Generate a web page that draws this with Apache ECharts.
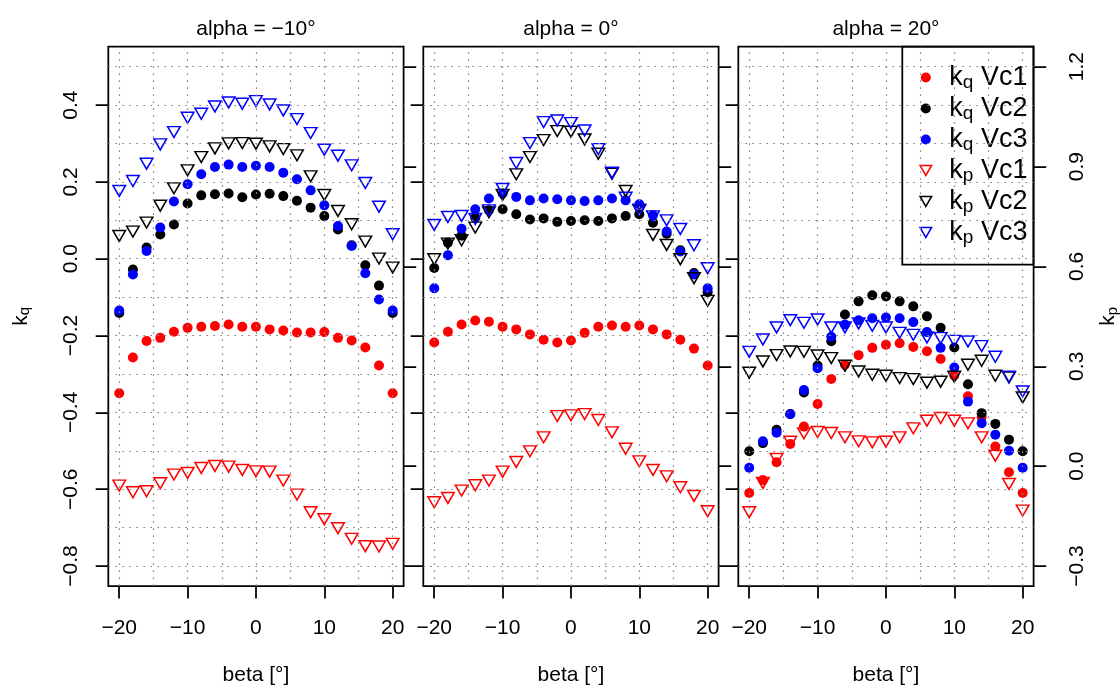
<!DOCTYPE html>
<html><head><meta charset="utf-8">
<script src="https://cdn.jsdelivr.net/npm/echarts@6/dist/echarts.min.js"></script>
<style>html,body{margin:0;padding:0;background:#fff}#c{width:1120px;height:692px}</style>
</head><body><div id="c"></div>
<script>
// ---------------- data ----------------
const beta = [-20,-18,-16,-14,-12,-10,-8,-6,-4,-2,0,2,4,6,8,10,12,14,16,18,20];

// alpha = -10
const kqVc1_m10 = [-0.350,-0.257,-0.214,-0.206,-0.190,-0.180,-0.177,-0.175,-0.171,-0.177,-0.177,-0.184,-0.187,-0.192,-0.192,-0.191,-0.206,-0.213,-0.231,-0.278,-0.350];
const kqVc2_m10 = [-0.141,-0.028,0.029,0.063,0.089,0.144,0.165,0.168,0.170,0.160,0.167,0.169,0.163,0.151,0.133,0.111,0.076,0.035,-0.017,-0.070,-0.141];
const kqVc3_m10 = [-0.135,-0.041,0.020,0.081,0.149,0.194,0.220,0.239,0.245,0.239,0.242,0.239,0.224,0.207,0.178,0.139,0.085,0.033,-0.038,-0.106,-0.135];
const kpVc1_m10 = [-0.053,-0.073,-0.070,-0.046,-0.020,-0.015,0.000,0.006,0.004,-0.006,-0.010,-0.011,-0.038,-0.080,-0.133,-0.154,-0.181,-0.213,-0.235,-0.236,-0.228];
const kpVc2_m10 = [0.697,0.710,0.737,0.788,0.840,0.894,0.934,0.960,0.975,0.976,0.974,0.966,0.958,0.939,0.876,0.820,0.772,0.732,0.680,0.629,0.602];
const kpVc3_m10 = [0.832,0.862,0.914,0.972,1.009,1.052,1.064,1.086,1.098,1.094,1.102,1.092,1.074,1.048,1.006,0.956,0.938,0.909,0.856,0.785,0.702];

// alpha = 0
const kqVc1_0 = [-0.218,-0.190,-0.171,-0.161,-0.164,-0.177,-0.184,-0.197,-0.211,-0.218,-0.213,-0.193,-0.177,-0.174,-0.177,-0.174,-0.184,-0.197,-0.211,-0.234,-0.278];
const kqVc2_0 = [-0.024,0.042,0.060,0.107,0.126,0.129,0.116,0.102,0.105,0.096,0.098,0.100,0.098,0.105,0.111,0.116,0.094,0.065,0.022,-0.037,-0.087];
const kqVc3_0 = [-0.077,0.009,0.078,0.129,0.157,0.170,0.161,0.152,0.157,0.155,0.152,0.150,0.152,0.157,0.152,0.142,0.113,0.071,0.019,-0.041,-0.077];
const kpVc1_0 = [-0.103,-0.090,-0.068,-0.052,-0.038,-0.011,0.018,0.050,0.092,0.156,0.158,0.162,0.144,0.107,0.058,0.020,-0.006,-0.025,-0.058,-0.084,-0.130];
const kpVc2_0 = [0.627,0.674,0.684,0.722,0.768,0.820,0.882,0.934,0.985,1.012,1.010,0.987,0.944,0.884,0.832,0.774,0.700,0.670,0.627,0.570,0.502];
const kpVc3_0 = [0.730,0.754,0.757,0.748,0.774,0.838,0.916,0.976,1.039,1.044,1.036,1.014,0.958,0.887,0.812,0.776,0.756,0.744,0.718,0.669,0.600];

// alpha = 20
const kqVc1_20 = [-0.610,-0.576,-0.530,-0.482,-0.437,-0.378,-0.313,-0.276,-0.251,-0.232,-0.224,-0.220,-0.230,-0.241,-0.261,-0.304,-0.358,-0.412,-0.489,-0.556,-0.610];
const kqVc2_20 = [-0.501,-0.480,-0.445,-0.404,-0.348,-0.278,-0.215,-0.145,-0.111,-0.095,-0.098,-0.111,-0.124,-0.150,-0.180,-0.231,-0.327,-0.402,-0.430,-0.471,-0.501];
const kqVc3_20 = [-0.544,-0.475,-0.453,-0.405,-0.342,-0.285,-0.203,-0.171,-0.160,-0.155,-0.153,-0.155,-0.165,-0.191,-0.232,-0.283,-0.372,-0.428,-0.458,-0.500,-0.544];
const kpVc1_20 = [-0.133,-0.045,0.027,0.079,0.104,0.108,0.105,0.092,0.080,0.077,0.079,0.092,0.119,0.142,0.150,0.142,0.134,0.092,0.037,-0.048,-0.128];
const kpVc2_20 = [0.286,0.320,0.339,0.350,0.349,0.338,0.330,0.307,0.290,0.280,0.277,0.270,0.267,0.256,0.259,0.274,0.310,0.322,0.277,0.272,0.212];
const kpVc3_20 = [0.349,0.386,0.422,0.444,0.436,0.446,0.422,0.422,0.434,0.427,0.422,0.406,0.400,0.392,0.390,0.382,0.380,0.366,0.334,0.274,0.230];

// ticks / grid lines
const xTicks = [-20,-10,0,10,20];
const xGridLines = [-20,-15,-10,-5,0,5,10,15,20];
const kqTicks = [-0.8,-0.6,-0.4,-0.2,0,0.2,0.4];
const kqGridLines = [-0.8,-0.7,-0.6,-0.5,-0.4,-0.3,-0.2,-0.1,0,0.1,0.2,0.3,0.4,0.5];
const kpTicks = [-0.3,0,0.3,0.6,0.9,1.2];
const panelTitles = ['alpha = \u221210\u00b0','alpha = 0\u00b0','alpha = 20\u00b0'];
const seriesNames = ['kq Vc1','kq Vc2','kq Vc3','kp Vc1','kp Vc2','kp Vc3'];

// ---------------- layout / style ----------------
const FONT = '"Liberation Sans", Arial, Helvetica, sans-serif';
const colors = ['#FF0000','#000000','#0000FF'];
const TRI = 'path://M0,0L20,0L10,17.32Z';
const panelLeft = [108.3, 423.3, 738.3];
const panelW = 295.3, panelTop = 46.7, panelH = 539.3;
const panels = [
  {kq:[kqVc1_m10,kqVc2_m10,kqVc3_m10], kp:[kpVc1_m10,kpVc2_m10,kpVc3_m10]},
  {kq:[kqVc1_0,kqVc2_0,kqVc3_0], kp:[kpVc1_0,kpVc2_0,kpVc3_0]},
  {kq:[kqVc1_20,kqVc2_20,kqVc3_20], kp:[kpVc1_20,kpVc2_20,kpVc3_20]}
];
const fmt1 = v => (v < -1e-9 ? '\u2212' : '') + Math.abs(v).toFixed(1);
const fmt0 = v => (v < 0 ? '\u2212' : '') + Math.abs(v);

const subRich = (big, small, lh, pad) => ({
  k: {fontSize: big, fontFamily: FONT, color: '#000', lineHeight: lh},
  s: {fontSize: small, fontFamily: FONT, color: '#000', lineHeight: small, padding: [pad,0,0,0], verticalAlign: 'top'}
});
const tickStyle = {color: '#000', width: 1.75};

const grid = [], xAxis = [], yAxis = [], series = [], title = [];
for (let g = 0; g < 3; g++) {
  grid.push({left: panelLeft[g], top: panelTop, width: panelW, height: panelH, show: true,
    borderColor: '#000', borderWidth: 1.75, backgroundColor: 'transparent', outerBoundsMode: 'none', containLabel: false});
  title.push({text: panelTitles[g], left: panelLeft[g] + panelW/2, top: 19, textAlign: 'center', padding: 0,
    textStyle: {fontSize: 21, fontWeight: 'normal', fontFamily: FONT, color: '#000', lineHeight: 21}});
  xAxis.push({type: 'value', gridIndex: g, min: -21.6, max: 21.6, position: 'bottom',
    axisLine: {show: false, onZero: false}, splitLine: {show: false},
    axisTick: {show: true, length: 12.6, lineStyle: tickStyle, customValues: xTicks},
    axisLabel: {show: true, customValues: xTicks, margin: 32, fontSize: 21, lineHeight: 21, fontFamily: FONT, color: '#000', formatter: fmt0},
    name: 'beta [\u00b0]', nameLocation: 'middle', nameGap: 79,
    nameTextStyle: {fontSize: 21, lineHeight: 21, fontFamily: FONT, color: '#000'}});
  yAxis.push({type: 'value', gridIndex: g, position: 'left', min: -0.852, max: 0.552,
    axisLine: {show: false, onZero: false}, splitLine: {show: false},
    axisTick: {show: true, length: 12.6, lineStyle: tickStyle, customValues: kqTicks},
    axisLabel: {show: g === 0, customValues: kqTicks, rotate: 90, margin: 27, fontSize: 21, lineHeight: 21, fontFamily: FONT, color: '#000', formatter: fmt1},
    name: g === 0 ? '{k|k}{s|q}' : '', nameLocation: 'middle', nameRotate: 90, nameGap: 74.5,
    nameTextStyle: {rich: subRich(21, 15, 26, 10)}});
  yAxis.push({type: 'value', gridIndex: g, position: 'right', min: -0.36, max: 1.26,
    axisLine: {show: false, onZero: false}, splitLine: {show: false},
    axisTick: {show: true, length: 12.6, lineStyle: tickStyle, customValues: kpTicks},
    axisLabel: {show: g === 2, customValues: kpTicks, rotate: 90, margin: 33, fontSize: 21, lineHeight: 21, fontFamily: FONT, color: '#000', formatter: fmt1},
    name: g === 2 ? '{k|k}{s|p}' : '', nameLocation: 'middle', nameRotate: 90, nameGap: 62,
    nameTextStyle: {rich: subRich(21, 15, 26, 10)}});

  // dotted reference grid
  series.push({type: 'scatter', name: 'grid' + g, xAxisIndex: g, yAxisIndex: 2*g, data: [], silent: true, z: 1,
    markLine: {silent: true, symbol: ['none','none'], animation: false, label: {show: false},
      lineStyle: {type: [1.75, 5.25], color: '#8a8a8a', width: 1.2},
      emphasis: {disabled: true},
      data: xGridLines.map(v => ({xAxis: v})).concat(kqGridLines.map(v => ({yAxis: v})))}});

  for (let s = 0; s < 3; s++) {
    series.push({type: 'scatter', name: seriesNames[s], xAxisIndex: g, yAxisIndex: 2*g,
      data: beta.map((b, i) => [b, panels[g].kq[s][i]]),
      symbol: 'circle', symbolSize: 10, silent: true, z: 3,
      itemStyle: {color: colors[s], opacity: 1}, emphasis: {disabled: true}});
  }
  for (let s = 0; s < 3; s++) {
    series.push({type: 'scatter', name: seriesNames[3 + s], xAxisIndex: g, yAxisIndex: 2*g + 1,
      data: beta.map((b, i) => [b, panels[g].kp[s][i]]),
      symbol: TRI, symbolSize: [12.6, 10.9], symbolOffset: [0, 1.8], silent: true, z: 3,
      itemStyle: {color: 'rgba(0,0,0,0)', borderColor: colors[s], borderWidth: 1.5, opacity: 1}, emphasis: {disabled: true}});
  }
}

const legendRich = {
  pad: {width: 12, fontSize: 27, fontFamily: FONT, lineHeight: 31.5},
  k: {fontSize: 27, fontFamily: FONT, color: '#000', lineHeight: 31.5},
  s: {fontSize: 19, fontFamily: FONT, color: '#000', lineHeight: 19, padding: [12,0,0,0], verticalAlign: 'top'},
  t: {fontSize: 27, fontFamily: FONT, color: '#000', lineHeight: 31.5}
};

const option = {
  animation: false,
  backgroundColor: '#fff',
  title: title,
  grid: grid, xAxis: xAxis, yAxis: yAxis, series: series,
  legend: {
    orient: 'vertical', left: 902.3, top: 46.7, itemGap: 0, itemWidth: 13, itemHeight: 10,
    padding: [15, 6, 17, 17], borderColor: '#000', borderWidth: 1.75, backgroundColor: 'transparent',
    selectedMode: false,
    data: seriesNames.map((n, i) => ({
      name: n,
      icon: i < 3 ? 'circle' : TRI,
      itemStyle: i < 3 ? {color: colors[i], borderWidth: 0}
                       : {color: 'rgba(0,0,0,0)', borderColor: colors[i-3], borderWidth: 1.5}
    })),
    formatter: n => { const p = n.split(' '); return '{pad| }{k|k}{s|' + p[0][1] + '}{t| ' + p[1] + '}'; },
    textStyle: {rich: legendRich, fontFamily: FONT, fontSize: 27, color: '#000'}
  }
};
const chart = echarts.init(document.getElementById('c'), null, {renderer: 'canvas'});
chart.setOption(option);
</script></body></html>
